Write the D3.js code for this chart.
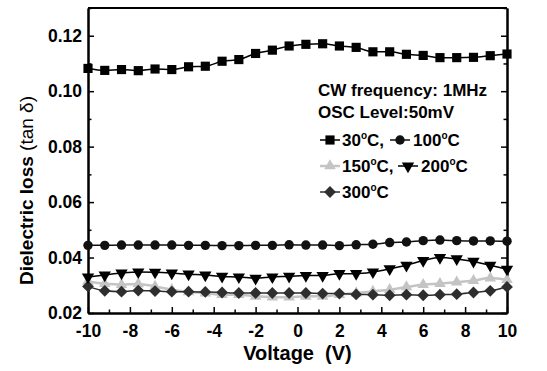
<!DOCTYPE html>
<html lang="en">
<head>
<meta charset="UTF-8">
<title>Dielectric loss vs voltage</title>
<script src="https://d3js.org/d3.v7.min.js"></script>
<style>
    body { margin: 0; background: #fff; }
    svg { font-family: "Liberation Sans", Arial, sans-serif; }
    .axis path, .axis line { stroke: #000; }
    .axis path { stroke-width: 2px; }
    .axis line { stroke-width: 1.5px; }
    .axis text { font-size: 17.5px; font-weight: bold; fill: #000; font-family: "Liberation Sans", Arial, sans-serif; }
    .legend text { font-size: 17px; font-weight: bold; fill: #000; }
</style>
</head>
<body>
<div id="chart"></div>
<script>
    // bias voltage (V)
    var voltage = [-10, -9.2, -8.4, -7.6, -6.8, -6.0, -5.2, -4.4, -3.6, -2.8, -2.0, -1.2, -0.4,
                   0.4, 1.2, 2.0, 2.8, 3.6, 4.4, 5.2, 6.0, 6.8, 7.6, 8.4, 9.2, 10];

    // tan delta at each temperature
    var loss30 = [0.1082, 0.1075, 0.1078, 0.1074, 0.1080, 0.1078, 0.1088, 0.1090, 0.1108, 0.1114,
                  0.1136, 0.1148, 0.1163, 0.1169, 0.1171, 0.1163, 0.1158, 0.1142, 0.1142, 0.1133,
                  0.1129, 0.1121, 0.1121, 0.1122, 0.1128, 0.1134];
    var loss100 = [0.0444, 0.0444, 0.0445, 0.0445, 0.0445, 0.0445, 0.0444, 0.0444, 0.0443, 0.0443,
                   0.0444, 0.0444, 0.0446, 0.0445, 0.0445, 0.0443, 0.0446, 0.0448, 0.0454, 0.0456,
                   0.0461, 0.0463, 0.0461, 0.0460, 0.0460, 0.0459];
    var loss150 = [0.0314, 0.0306, 0.0302, 0.0305, 0.0296, 0.0284, 0.0276, 0.0272, 0.0266, 0.0266,
                   0.0260, 0.0257, 0.0257, 0.0260, 0.0260, 0.0266, 0.0272, 0.0278, 0.0284, 0.0294,
                   0.0302, 0.0306, 0.0311, 0.0317, 0.0326, 0.0320];
    var loss200 = [0.0330, 0.0337, 0.0344, 0.0348, 0.0347, 0.0344, 0.0340, 0.0337, 0.0332, 0.0330,
                   0.0325, 0.0330, 0.0332, 0.0335, 0.0335, 0.0342, 0.0342, 0.0348, 0.0359, 0.0372,
                   0.0389, 0.0400, 0.0395, 0.0386, 0.0372, 0.0358];
    var loss300 = [0.0296, 0.0280, 0.0277, 0.0281, 0.0279, 0.0277, 0.0277, 0.0276, 0.0274, 0.0272,
                   0.0272, 0.0272, 0.0272, 0.0272, 0.0270, 0.0270, 0.0267, 0.0266, 0.0264, 0.0266,
                   0.0264, 0.0266, 0.0268, 0.0274, 0.0280, 0.0294];

    var xTicks = [-10, -8, -6, -4, -2, 0, 2, 4, 6, 8, 10];
    var xMinor = [-9, -7, -5, -3, -1, 1, 3, 5, 7, 9];
    var yTicks = [0.02, 0.04, 0.06, 0.08, 0.10, 0.12];
    var yMinor = [0.03, 0.05, 0.07, 0.09, 0.11, 0.13];

    var margin = { top: 8, right: 40, bottom: 58, left: 88 },
        width = 547 - margin.left - margin.right,
        height = 371 - margin.top - margin.bottom;

    var svg = d3.select("#chart").append("svg")
        .attr("width", 547)
        .attr("height", 371)
      .append("g")
        .attr("transform", "translate(" + margin.left + "," + margin.top + ")");

    var x = d3.scaleLinear().domain([-10, 10]).range([0, width]);
    var y = d3.scaleLinear().domain([0.02, 0.13]).range([height, 0]);

    // axes, ticks pointing inside
    svg.append("g").attr("class", "axis")
        .attr("transform", "translate(0," + height + ")")
        .call(d3.axisBottom(x).tickValues(xTicks).tickSize(-6).tickSizeOuter(0).tickPadding(12)
            .tickFormat(function(d) { return String(d); }));
    svg.append("g").attr("class", "axis")
        .attr("transform", "translate(0," + height + ")")
        .call(d3.axisBottom(x).tickValues(xMinor).tickSize(-3.5).tickSizeOuter(0).tickFormat(""));

    svg.append("g").attr("class", "axis")
        .call(d3.axisLeft(y).tickValues(yTicks).tickSize(-6).tickSizeOuter(0).tickPadding(6)
            .tickFormat(d3.format(".2f")));
    svg.append("g").attr("class", "axis")
        .call(d3.axisLeft(y).tickValues(yMinor).tickSize(-3.5).tickSizeOuter(0).tickFormat(""));

    svg.append("g").attr("class", "axis")
        .attr("transform", "translate(" + width + ",0)")
        .call(d3.axisRight(y).tickValues(yTicks).tickSize(-6).tickSizeOuter(0).tickFormat(""));
    svg.append("g").attr("class", "axis")
        .attr("transform", "translate(" + width + ",0)")
        .call(d3.axisRight(y).tickValues(yMinor).tickSize(-3.5).tickSizeOuter(0).tickFormat(""));

    svg.append("line")
        .attr("x1", 0).attr("x2", width).attr("y1", 0).attr("y2", 0)
        .attr("stroke", "#000").attr("stroke-width", 2);

    // series
    var series = [
        { name: "150", values: loss150, color: "#c4c4c4", lw: 2.5, sym: d3.symbolTriangle, size: 58, rot: 0 },
        { name: "300", values: loss300, color: "#2e2e2e", lw: 1.5, sym: d3.symbolSquare, size: 70, rot: 45 },
        { name: "200", values: loss200, color: "#000", lw: 1.5, sym: d3.symbolTriangle, size: 66, rot: 180 },
        { name: "100", values: loss100, color: "#111", lw: 1.5, sym: d3.symbolCircle, size: 70, rot: 0 },
        { name: "30", values: loss30, color: "#000", lw: 1.5, sym: d3.symbolSquare, size: 84, rot: 0 }
    ];

    var line = d3.line()
        .x(function(d) { return x(d[0]); })
        .y(function(d) { return y(d[1]); })
        .curve(d3.curveMonotoneX);

    var plot = svg.append("g");

    series.forEach(function(s) {
        var pts = voltage.map(function(v, i) { return [v, s.values[i]]; });
        var g = plot.append("g");
        g.append("path")
            .datum(pts)
            .attr("fill", "none")
            .attr("stroke", s.color)
            .attr("stroke-width", s.lw)
            .attr("d", line);
        g.selectAll("path.pt")
            .data(pts)
            .enter().append("path")
            .attr("class", "pt")
            .attr("d", d3.symbol().type(s.sym).size(s.size))
            .attr("fill", s.color)
            .attr("transform", function(d) {
                return "translate(" + x(d[0]) + "," + y(d[1]) + ") rotate(" + s.rot + ")";
            });
    });

    // axis titles
    svg.append("text")
        .attr("x", width / 2)
        .attr("y", height + 47)
        .attr("text-anchor", "middle")
        .style("font-size", "20px")
        .style("font-weight", "bold")
        .text("Voltage\u00a0 (V)");

    var yt = svg.append("text")
        .attr("transform", "translate(-55," + (height / 2 + 30) + ") rotate(-90)")
        .attr("text-anchor", "middle")
        .style("font-size", "19px")
        .style("font-weight", "bold");
    yt.append("tspan").text("Dielectric loss ");
    yt.append("tspan").style("font-weight", "normal").text("(tan δ)");

    // legend
    var legend = svg.append("g").attr("class", "legend");
    legend.append("text").attr("x", 230).attr("y", 88).text("CW frequency: 1MHz");
    legend.append("text").attr("x", 230).attr("y", 110).text("OSC Level:50mV");

    var lookup = {};
    series.forEach(function(s) { lookup[s.name] = s; });

    var entries = [
        { name: "30", sx: 232, tx: 254, row: 0, comma: true },
        { name: "100", sx: 302, tx: 325, row: 0, comma: false },
        { name: "150", sx: 232, tx: 254, row: 1, comma: true },
        { name: "200", sx: 310, tx: 333, row: 1, comma: false },
        { name: "300", sx: 232, tx: 254, row: 2, comma: false }
    ];

    entries.forEach(function(e) {
        var s = lookup[e.name];
        var cy = 132 + e.row * 26;
        legend.append("line")
            .attr("x1", e.sx).attr("x2", e.sx + 20)
            .attr("y1", cy).attr("y2", cy)
            .attr("stroke", s.color).attr("stroke-width", s.lw);
        legend.append("path")
            .attr("d", d3.symbol().type(s.sym).size(s.size))
            .attr("fill", s.color)
            .attr("transform", "translate(" + (e.sx + 10) + "," + cy + ") rotate(" + s.rot + ")");
        var t = legend.append("text").attr("x", e.tx).attr("y", cy + 6);
        t.append("tspan").text(e.name);
        t.append("tspan").attr("dy", -7).style("font-size", "10px").text("o");
        t.append("tspan").attr("dy", 7).text(e.comma ? "C," : "C");
    });
</script>
</body>
</html>
